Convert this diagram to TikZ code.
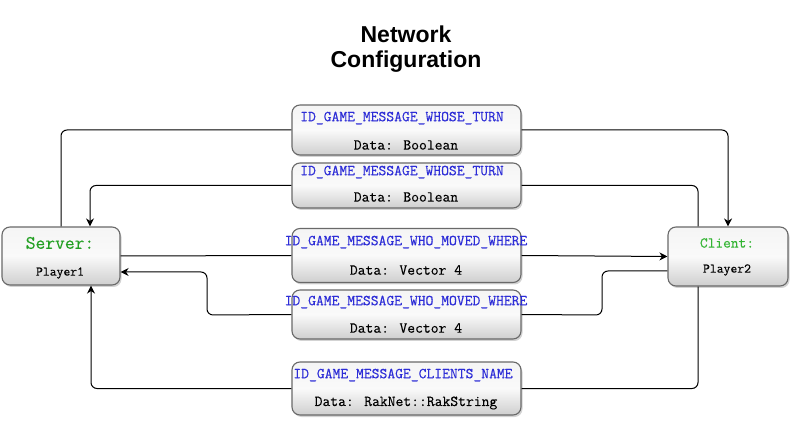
\documentclass[tikz,border=0pt]{standalone}
\usepackage{fontspec}
\setmainfont{Liberation Sans}
\newfontfamily\courf{Latin Modern Mono}[FakeBold=0.35]
\usetikzlibrary{shadows,arrows.meta}
\definecolor{idblue}{RGB}{45,45,215}
\definecolor{srvgreen}{RGB}{35,160,35}
\definecolor{cligreen}{RGB}{50,180,50}
\definecolor{boxedge}{RGB}{105,105,105}
\tikzset{
  glossbox/.style={draw=boxedge, line width=1.1pt, rounded corners=8pt,
    top color=gray!8, bottom color=gray!38, middle color=white!96!gray,
    drop shadow={shadow xshift=1.5pt, shadow yshift=-2pt, opacity=0.35, fill=gray},
    inner sep=0pt},
  idtext/.style={font=\courf\fontsize{15.2}{17}\selectfont, text=idblue, inner sep=0pt},
  datatext/.style={font=\courf\fontsize{15.2}{17}\selectfont, text=black, inner sep=0pt},
  plyr/.style={font=\courf\fontsize{13.3}{15}\selectfont, text=black, inner sep=0pt},
  conn/.style={line width=1pt, rounded corners=6pt},
  arr/.style={conn, -{Stealth[length=8pt,width=8pt,inset=2.5pt]}}
}
\begin{document}
\begin{tikzpicture}[x=1pt,y=-1pt]
\useasboundingbox (0,0) rectangle (792,427);
\node[font=\bfseries\fontsize{23}{25}\selectfont, align=center, inner sep=0pt] (title) at (406,49) {Network\\Configuration};

% boxes
\node[glossbox, minimum width=118pt, minimum height=58pt] (srv) at (61,256) {};
\node[glossbox, minimum width=120pt, minimum height=59pt] (cli) at (728,256.5) {};
\node[glossbox, minimum width=229pt, minimum height=50pt] (m1) at (406.5,130) {};
\node[glossbox, minimum width=229pt, minimum height=45pt] (m2) at (406.5,185.5) {};
\node[glossbox, minimum width=229pt, minimum height=54pt] (m3) at (406.5,255.5) {};
\node[glossbox, minimum width=229pt, minimum height=49pt] (m4) at (406.5,314.5) {};
\node[glossbox, minimum width=229pt, minimum height=53pt] (m5) at (406.5,388.5) {};

% texts
\node[font=\courf\fontsize{19}{21}\selectfont, text=srvgreen, inner sep=0pt] (srvt) at (60,243) {Server:};
\node[plyr] (srvp) at (60,273) {Player1};
\node[font=\courf\fontsize{15}{17}\selectfont, text=cligreen, inner sep=0pt] (clit) at (727,243) {Client:};
\node[plyr] (clip) at (727,270) {Player2};

\node[idtext] (m1a) at (402,118) {ID\_GAME\_MESSAGE\_WHOSE\_TURN};
\node[datatext] (m1b) at (406,145) {Data: Boolean};
\node[idtext] (m2a) at (402,172) {ID\_GAME\_MESSAGE\_WHOSE\_TURN};
\node[datatext] (m2b) at (406,197) {Data: Boolean};
\node[idtext] (m3a) at (406,242) {ID\_GAME\_MESSAGE\_WHO\_MOVED\_WHERE};
\node[datatext] (m3b) at (406,270) {Data: Vector 4};
\node[idtext] (m4a) at (406,302) {ID\_GAME\_MESSAGE\_WHO\_MOVED\_WHERE};
\node[datatext] (m4b) at (406,328) {Data: Vector 4};
\node[idtext] (m5a) at (403,375) {ID\_GAME\_MESSAGE\_CLIENTS\_NAME};
\node[datatext] (m5b) at (406,403) {Data: RakNet::RakString};

% bend coordinates
\coordinate (c4r) at (602,315);
\coordinate (c4l) at (207,315);

% connectors
\draw[conn] (srv.north) |- (m1.west);
\draw[arr] (m1.east) -| (cli.north);

\draw[conn] ([xshift=-30pt]cli.north) |- (m2.east);
\draw[arr] (m2.west) -| ([xshift=29pt]srv.north);

\draw[conn] (srv.east) -- (m3.west);
\draw[arr] (m3.east) -- (cli.west);

\draw[conn] ([yshift=-14.5pt]cli.west) -| (c4r) -- (m4.east);
\draw[arr] (m4.west) -- (c4l) |- ([yshift=-16pt]srv.east);

\draw[conn] ([xshift=-30pt]cli.south) |- (m5.east);
\draw[arr] (m5.west) -| ([xshift=30pt]srv.south);
\end{tikzpicture}
\end{document}
